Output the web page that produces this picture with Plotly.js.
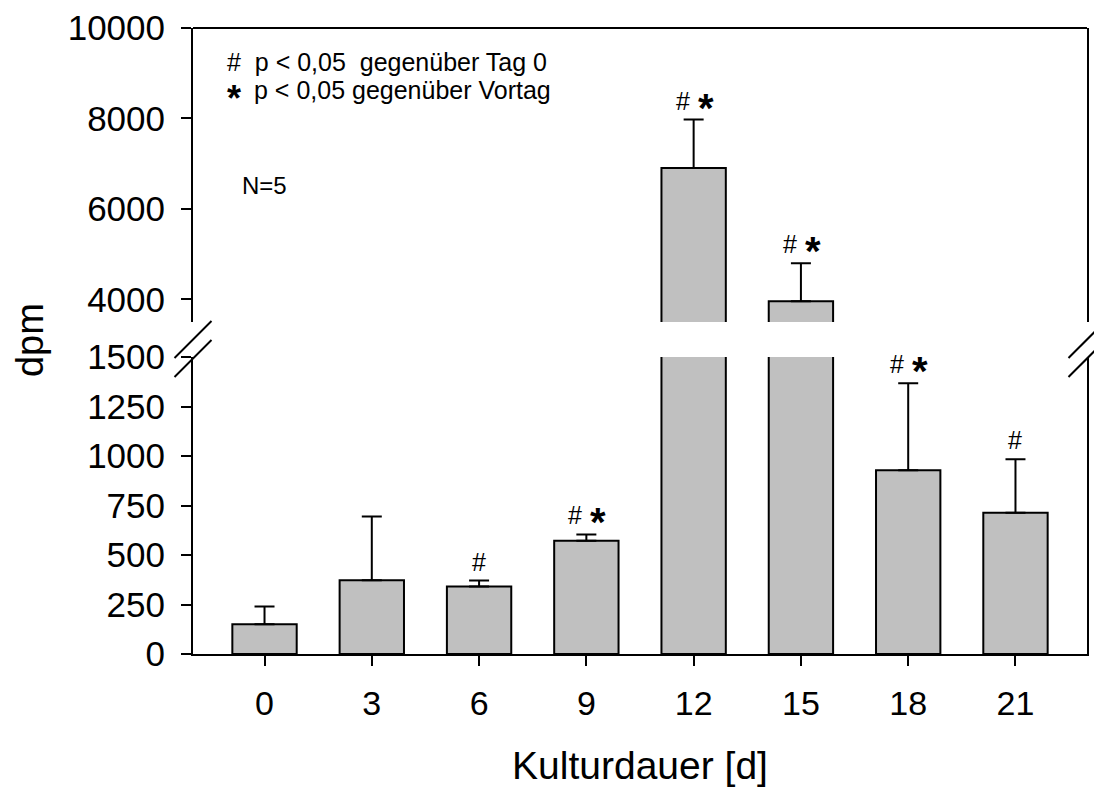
<!DOCTYPE html>
<html>
<head>
<meta charset="utf-8">
<script src="https://cdn.plot.ly/plotly-3.0.1.min.js"></script>
<style>html,body{margin:0;padding:0;background:#fff;}</style>
</head>
<body>
<div id="chart" style="width:1094px;height:787px;"></div>
<script>
// Data
const days = [0, 3, 6, 9, 12, 15, 18, 21];
const dayLabels = ['0', '3', '6', '9', '12', '15', '18', '21'];
const meanDpm = [150, 373, 341, 572, 6905, 3956, 928, 713];
const sdDpm = [90, 321, 30, 32, 1071, 840, 440, 271];
const sigVsDay0 = [false, false, true, true, true, true, true, true];
const sigVsPrev = [false, false, false, true, true, true, true, false];
const lowerTicks = [0, 250, 500, 750, 1000, 1250, 1500];
const lowerTickText = ['0', '250', '500', '750', '1000', '1250', '1500'];
const upperTicks = [4000, 6000, 8000, 10000];
const upperTickText = ['4000', '6000', '8000', '10000'];
const lowerRange = [0, 1500];
const upperRange = [3500, 10000];

const FONT = 'Liberation Sans, Arial, sans-serif';
const zeros = meanDpm.map(() => 0);

function barTrace(yaxis) {
  return {
    type: 'bar', x: days, y: meanDpm, yaxis: yaxis, xaxis: 'x',
    width: 1.8,
    marker: {color: '#c0c0c0', line: {color: 'black', width: 2}},
    error_y: {type: 'data', symmetric: false, array: sdDpm, arrayminus: zeros,
              color: 'black', thickness: 2, width: 10},
    hoverinfo: 'x+y', cliponaxis: true
  };
}

const annotations = [];
days.forEach((d, i) => {
  const top = meanDpm[i] + sdDpm[i];
  const yref = top > lowerRange[1] ? 'y2' : 'y';
  const both = sigVsDay0[i] && sigVsPrev[i];
  if (sigVsDay0[i]) {
    annotations.push({x: d, y: top, xref: 'x', yref: yref, text: '#', showarrow: false,
      xanchor: 'center', yanchor: 'bottom', xshift: both ? -11 : 0, yshift: 3,
      font: {family: FONT, size: 25, color: 'black'}});
  }
  if (sigVsPrev[i]) {
    annotations.push({x: d, y: top, xref: 'x', yref: yref, text: '<b>*</b>', showarrow: false,
      xanchor: 'center', yanchor: 'bottom', xshift: 12, yshift: -12,
      font: {family: FONT, size: 40, color: 'black'}});
  }
});

// Key text and N
annotations.push({xref: 'paper', yref: 'paper', x: 0.0358, y: 0.9457, xanchor: 'left', yanchor: 'middle',
  text: '#&nbsp;&nbsp;p &lt; 0,05&nbsp;&nbsp;gegenüber Tag 0', showarrow: false,
  font: {family: FONT, size: 25, color: 'black'}});
annotations.push({xref: 'paper', yref: 'paper', x: 0.0358, y: 0.901, xanchor: 'left', yanchor: 'middle',
  text: '<b>*</b>', showarrow: false, yshift: -9,
  font: {family: FONT, size: 36, color: 'black'}});
annotations.push({xref: 'paper', yref: 'paper', x: 0.0663, y: 0.901, xanchor: 'left', yanchor: 'middle',
  text: 'p &lt; 0,05 gegenüber Vortag', showarrow: false,
  font: {family: FONT, size: 25, color: 'black'}});
annotations.push({xref: 'paper', yref: 'paper', x: 0.053, y: 0.749, xanchor: 'left', yanchor: 'middle',
  text: 'N=5', showarrow: false,
  font: {family: FONT, size: 24, color: 'black'}});
// y-axis title
annotations.push({xref: 'paper', yref: 'paper', x: -0.1823, y: 0.5016, xanchor: 'center', yanchor: 'middle',
  text: 'dpm', textangle: -90, showarrow: false,
  font: {family: FONT, size: 38, color: 'black'}});

const lineStyle = {color: 'black', width: 2};
const shapes = [
  {type: 'line', xref: 'paper', yref: 'paper', x0: 0, x1: 1, y0: 1, y1: 1, line: lineStyle},
  // break marks left
  {type: 'line', xref: 'paper', yref: 'paper', x0: -0.0207, x1: 0.0207, y0: 0.4729, y1: 0.5320, line: lineStyle},
  {type: 'line', xref: 'paper', yref: 'paper', x0: -0.0207, x1: 0.0207, y0: 0.4425, y1: 0.5016, line: lineStyle},
  // break marks right
  {type: 'line', xref: 'paper', yref: 'paper', x0: 0.9793, x1: 1.0207, y0: 0.4729, y1: 0.5320, line: lineStyle},
  {type: 'line', xref: 'paper', yref: 'paper', x0: 0.9793, x1: 1.0207, y0: 0.4425, y1: 0.5016, line: lineStyle}
];

const yCommon = {
  ticks: 'outside', ticklen: 10, tickwidth: 2, tickcolor: 'black',
  showline: true, linewidth: 2, linecolor: 'black', mirror: true,
  showgrid: false, zeroline: false, anchor: 'x',
  ticklabelstandoff: 9,
  tickfont: {family: FONT, size: 35, color: 'black'}
};

const layout = {
  width: 1094, height: 787,
  margin: {l: 193, r: 7, t: 28, b: 133, pad: 0},
  paper_bgcolor: 'white', plot_bgcolor: 'white',
  showlegend: false,
  font: {family: FONT, color: 'black'},
  xaxis: {
    range: [-2, 23], tickvals: days, ticktext: dayLabels,
    ticks: 'outside', ticklen: 10, tickwidth: 2, tickcolor: 'black',
    showline: true, linewidth: 2, linecolor: 'black', showgrid: false, zeroline: false,
    ticklabelstandoff: 8,
    tickfont: {family: FONT, size: 34, color: 'black'},
    title: {text: 'Kulturdauer [d]', font: {family: FONT, size: 39, color: 'black'}, standoff: 36}
  },
  yaxis: Object.assign({}, yCommon, {domain: [0, 0.4744], range: lowerRange, tickvals: lowerTicks, ticktext: lowerTickText}),
  yaxis2: Object.assign({}, yCommon, {domain: [0.5304, 1], range: upperRange, tickvals: upperTicks, ticktext: upperTickText}),
  annotations: annotations,
  shapes: shapes
};

Plotly.newPlot('chart', [barTrace('y'), barTrace('y2')], layout, {displayModeBar: false, staticPlot: true});
</script>
</body>
</html>
